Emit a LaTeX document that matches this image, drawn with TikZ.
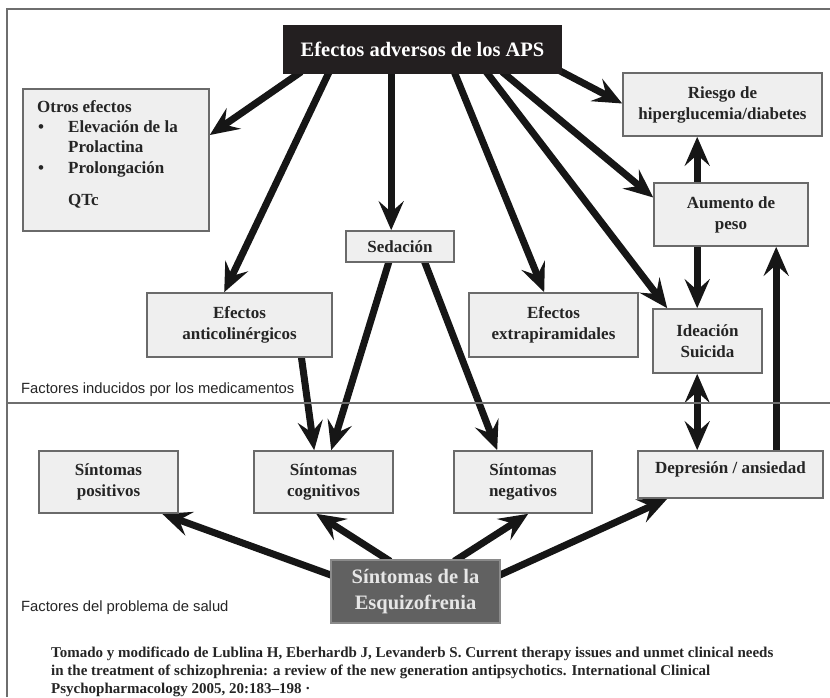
\documentclass[tikz,border=0pt]{standalone}
\usepackage{fontspec}
\setmainfont{Liberation Serif}
\newfontfamily\labelfont{Liberation Sans}
\usetikzlibrary{arrows.meta,calc}

\definecolor{boxfill}{HTML}{EFEFEF}
\definecolor{boxline}{HTML}{6A6A6A}
\definecolor{textdark}{HTML}{252525}
\definecolor{arrowcol}{HTML}{161616}
\definecolor{topfill}{HTML}{231F20}
\definecolor{schfill}{HTML}{616161}
\definecolor{schline}{HTML}{8A8A8A}
\definecolor{schtext}{HTML}{E6E6E6}
\definecolor{framecol}{HTML}{6E6E6E}

\pgfdeclarelayer{bg}
\pgfsetlayers{bg,main}

\begin{document}
\begin{tikzpicture}[x=1pt,y=-1pt,
  box/.style={draw=boxline, line width=1.6pt, fill=boxfill, text=textdark,
    font=\fontsize{17}{21}\selectfont\bfseries, align=center, inner sep=0pt},
  boxtext/.style={text=textdark, font=\fontsize{17}{21}\selectfont\bfseries,
    inner sep=0pt, anchor=base west},
  arr/.style={draw=arrowcol, line width=7pt,
    -{Stealth[length=29pt,width=25pt,inset=11pt]}},
  arrboth/.style={draw=arrowcol, line width=7pt,
    {Stealth[length=29pt,width=25pt,inset=11pt]}-{Stealth[length=29pt,width=25pt,inset=11pt]}},
  lbl/.style={text=textdark, font=\labelfont\fontsize{14.8}{17}\selectfont,
    inner sep=0pt, anchor=base west},
  foot/.style={text=textdark, font=\fontsize{15}{18}\selectfont\bfseries,
    inner sep=0pt, anchor=base west},
  rule/.style={draw=framecol, line width=1.6pt}
]
\useasboundingbox (0,0) rectangle (830,697);

% frame and divider between the two groups of factors
\draw[rule] (7,697) -- (7,9) -- (830,9);
\draw[rule] (7,403) -- (830,403);

% main boxes
\node[box, fill=topfill, draw=topfill, text=white,
  font=\fontsize{20.5}{24}\selectfont\bfseries,
  minimum width=277pt, minimum height=47pt] (top) at (422.5,49.5) {Efectos adversos de los APS};
\node[box, minimum width=186pt, minimum height=142pt] (otros) at (116,160) {};
\node[box, minimum width=199pt, minimum height=63pt] (riesgo) at (722.5,104.5) {Riesgo de\\hiperglucemia/diabetes};
\node[box, minimum width=154pt, minimum height=63pt] (aumento) at (731,214.5) {Aumento de\\peso};
\node[box, minimum width=108pt, minimum height=31pt] (sedacion) at (400,246.5) {Sedación};
\node[box, minimum width=185pt, minimum height=64pt] (anticol) at (239.5,325) {Efectos\\anticolinérgicos};
\node[box, minimum width=169pt, minimum height=64pt] (extrapir) at (553.5,325) {Efectos\\extrapiramidales};
\node[box, minimum width=109pt, minimum height=64pt] (ideacion) at (707.5,341) {Ideación\\Suicida};
\node[box, minimum width=139pt, minimum height=62pt] (positivos) at (108.5,482) {Síntomas\\positivos};
\node[box, minimum width=139pt, minimum height=62pt] (cognitivos) at (323.5,482) {Síntomas\\cognitivos};
\node[box, minimum width=138pt, minimum height=62pt] (negativos) at (523,482) {Síntomas\\negativos};
\node[box, minimum width=185pt, minimum height=47pt] (depresion) at (730.5,474.5) {};
\node[box, draw=none, fill=none] (deptext) at (730.5,469) {Depresión / ansiedad};
\node[box, fill=schfill, draw=schline, text=schtext,
  font=\fontsize{20.5}{26}\selectfont\bfseries,
  minimum width=169pt, minimum height=63pt] (esquizo) at (415.5,591.5) {Síntomas de la\\Esquizofrenia};

% contents of the "Otros efectos" box
\node[boxtext] (ot1) at (37,112) {Otros efectos};
\node[boxtext] (b1) at (38,132) {•};
\node[boxtext] (ot2) at (68,132) {Elevación de la};
\node[boxtext] (ot3) at (68,152) {Prolactina};
\node[boxtext] (b2) at (38,173) {•};
\node[boxtext] (ot4) at (68,173) {Prolongación};
\node[boxtext] (ot5) at (68,205) {QTc};

% region labels
\node[lbl] (lblmed) at (21,393) {Factores inducidos por los medicamentos};
\node[lbl] (lblsalud) at (21,611) {Factores del problema de salud};

% reference
\node[foot] (foot1) at (51,657) {Tomado y modificado de Lublina H, Eberhardb J, Levanderb S. Current therapy issues and unmet clinical needs};
\node[foot] (foot2) at (51,675.5) {in the treatment of schizophrenia: a review of the new generation antipsychotics. International Clinical};
\node[foot] (foot3) at (51,693) {Psychopharmacology 2005, 20:183--198 ·};

% connectors
\begin{pgfonlayer}{bg}
\draw[arr] ($(top.south west)+(18,-2)$) -- ($(otros.east)+(0,-25)$);
\draw[arr] ($(top.south west)+(46,-2)$) -- ($(anticol.north west)+(78,0)$);
\draw[arr] ($(top.south west)+(108,-2)$) -- ($(sedacion.north west)+(46,0)$);
\draw[arr] ($(top.south west)+(171,-2)$) -- ($(extrapir.north west)+(76,0)$);
\draw[arr] ($(top.south west)+(203,-2)$) -- ($(ideacion.north west)+(15,0)$);
\draw[arr] ($(top.south west)+(219,-2)$) -- ($(aumento.west)+(0,-17)$);
\draw[arr] ($(top.south east)+(-2,-3)$) -- ($(riesgo.west)+(0,-1)$);

\coordinate (c1) at ($(aumento.north west)+(44,2)$);
\draw[arr] (c1) -- (c1 |- riesgo.south);
\coordinate (c2) at ($(aumento.south west)+(44,-2)$);
\draw[arr] (c2) -- (c2 |- ideacion.north);
\coordinate (c3) at ($(ideacion.south west)+(45,0)$);
\draw[arrboth] (c3) -- (c3 |- depresion.north);
\coordinate (c4) at ($(depresion.north west)+(139,2)$);
\draw[arr] (c4) -- (c4 |- aumento.south);

\draw[arr] ($(anticol.south west)+(155,-2)$) -- ($(cognitivos.north west)+(61,0)$);
\draw[arr] ($(sedacion.south west)+(44,-2)$) -- ($(cognitivos.north west)+(78,0)$);
\draw[arr] ($(sedacion.south west)+(79,-2)$) -- ($(negativos.north west)+(44,0)$);

\draw[arr] ($(esquizo.west)+(2,-16)$) -- ($(positivos.south west)+(124,0)$);
\draw[arr] ($(esquizo.north west)+(60,2)$) -- ($(cognitivos.south west)+(63,0)$);
\draw[arr] ($(esquizo.north west)+(124,2)$) -- ($(negativos.south west)+(75,0)$);
\draw[arr] ($(esquizo.east)+(-2,-16)$) -- ($(depresion.south west)+(30,0)$);
\end{pgfonlayer}
\end{tikzpicture}
\end{document}
